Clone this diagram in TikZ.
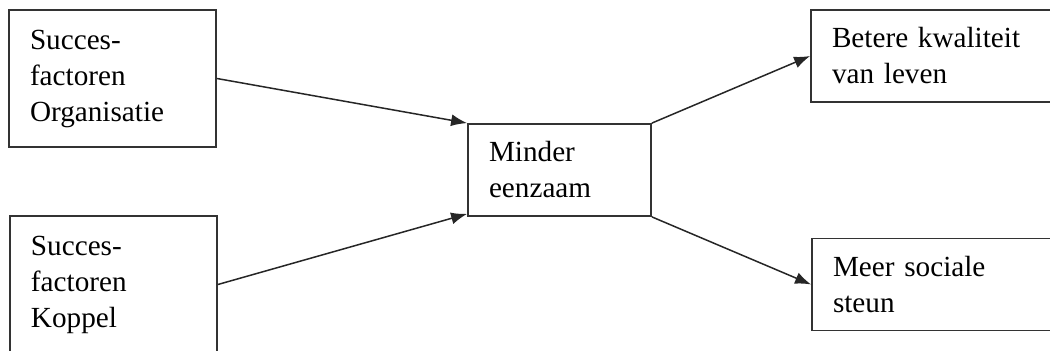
\documentclass[tikz,border=0pt]{standalone}
\usepackage{fontspec}
\setmainfont{Liberation Serif}
\usetikzlibrary{arrows.meta}
\begin{document}
\begin{tikzpicture}[x=0.5pt,y=-0.5pt,>={Latex[length=8pt,width=6pt]}]
	\def \rowoneht{78.5}
	\def \rowtwoht{284.5}
	\tikzstyle{f-node}=[rectangle,draw=black!80,line width=0.9pt,inner xsep=10.5pt,align=left,font=\fontsize{14.6}{18}\selectfont]
	\tikzstyle{link}=[->,draw=black!85,line width=0.75pt]
	\useasboundingbox (0,0) rectangle (1050,351);
	% success factors
	\node[f-node,minimum height=68.5pt,text width=82.5pt] (org)	at (112.5,\rowoneht)	{Succes-\\factoren\\Organisatie};
	\node[f-node,minimum height=68.5pt,text width=82.5pt] (kop)	at (113.5,\rowtwoht)	{Succes-\\factoren\\Koppel};
	% mediator
	\node[f-node,minimum height=46pt,text width=70.5pt] (eenzaam)	at (559.5,170)	{Minder\\eenzaam};
	% outcomes
	\node[f-node,minimum height=46pt,text width=104pt] (kwal)	at (936,56)	{Betere kwaliteit\\van leven};
	\node[f-node,minimum height=46pt,text width=104pt] (steun)	at (937,\rowtwoht)	{Meer sociale\\steun};

	\path
		(org.east)	edge[link]	(eenzaam.north west)
		(kop.east)	edge[link]	([yshift=1.5pt]eenzaam.south west)
		(eenzaam.north east)	edge[link]	(kwal.west)
		(eenzaam.south east)	edge[link]	(steun.west);
\end{tikzpicture}
\end{document}
